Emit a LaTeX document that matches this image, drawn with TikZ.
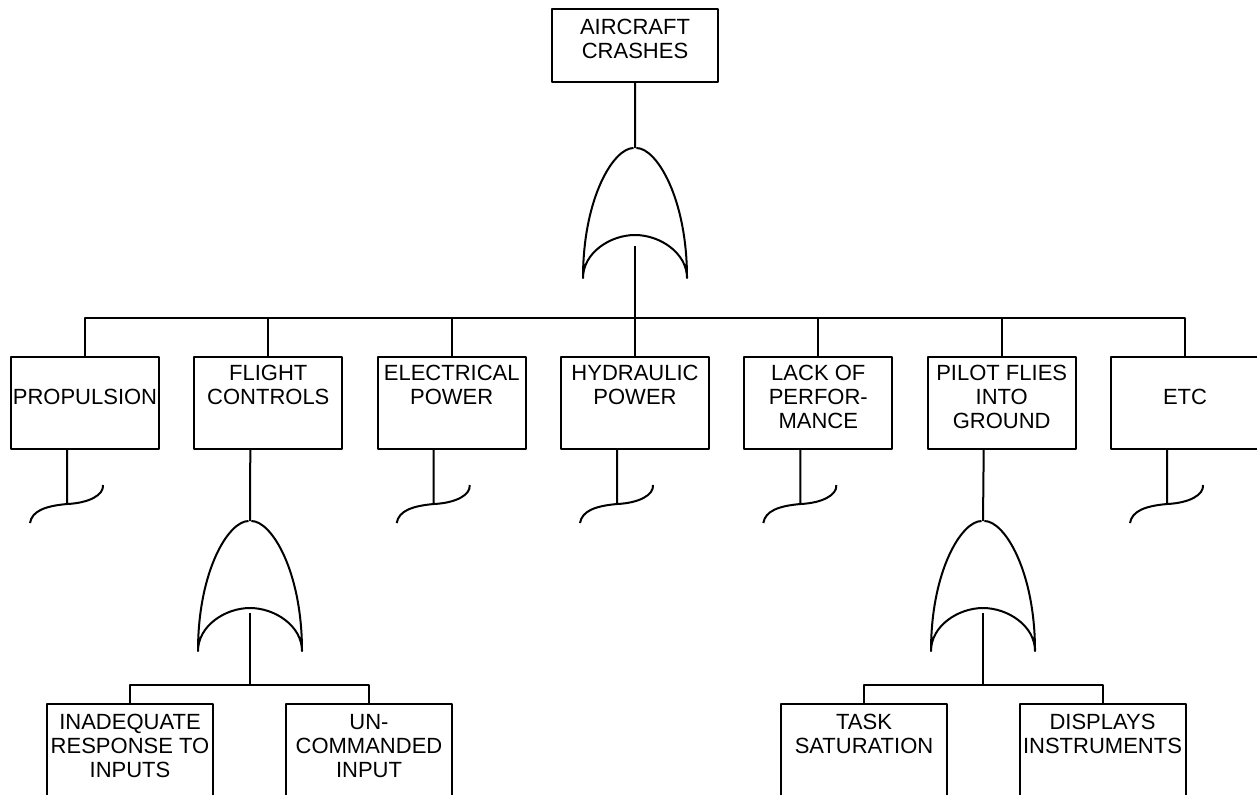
\documentclass[tikz,border=0pt]{standalone}
\usepackage{fontspec}
\setmainfont{Liberation Sans}
\begin{document}
\begin{tikzpicture}[x=0.5pt,y=-0.5pt,line width=1pt,line join=round,
  font=\fontsize{11pt}{12pt}\selectfont,
  evento/.style={draw,anchor=north,align=center,inner sep=0pt,minimum width=74pt,
    text height=23.5pt,text depth=22.5pt},
  tre/.style={text height=35.5pt,text depth=10.5pt},
  basso/.style={minimum width=83pt,text height=24.5pt,text depth=25.5pt},
  bassotre/.style={minimum width=83pt,text height=36.5pt,text depth=13.5pt}]

\def\portaor{++(-1.5,0) .. controls +(-20,0) and +(0,-80) .. ++(-50.5,130)
  .. controls +(0,-25) and +(-25,0) .. ++(52,-43)
  .. controls +(25,0) and +(0,-25) .. ++(52,43)
  .. controls +(0,-80) and +(20,0) .. ++(-50.5,-130)}

\useasboundingbox (0,0) rectangle (1257,794);
\clip (0,0) rectangle (1257,794);

%evento principale
\node[evento,minimum width=83pt,text height=24.5pt,text depth=12pt] (top) at (635,8) {AIRCRAFT\\CRASHES};
\coordinate (g1) at (635,148);
\draw (top.south) -- (g1) \portaor;
\coordinate (u1) at (635,246);
\coordinate (bus1) at (635,318);
\draw (u1) -- (bus1);

%livello 1
\node[evento] (prop) at (85,356) {PROPULSION};
\node[evento] (flight) at (268.3,356) {FLIGHT\\CONTROLS};
\node[evento] (elec) at (451.7,356) {ELECTRICAL\\POWER};
\node[evento] (hydr) at (635,356) {HYDRAULIC\\POWER};
\node[evento,tre] (lack) at (818.3,356) {LACK OF\\PERFOR-\\MANCE};
\node[evento,tre] (pilot) at (1001.7,356) {PILOT FLIES\\INTO\\GROUND};
\node[evento] (etc) at (1185,356) {ETC};
\foreach \n in {prop,flight,elec,hydr,lack,pilot,etc}
  \draw (bus1) -| (\n.north);

%non sviluppati
\foreach \n in {prop,elec,hydr,lack,etc}
  \draw ([xshift=-9pt]\n.south) -- ++(0,54) ++(-37,19)
    .. controls +(2,-12) and +(-22,2) .. ++(37,-19)
    .. controls +(22,-1) and +(1,10) .. ++(36,-19);

%porta flight controls
\coordinate (g2) at (250,521);
\draw ([xshift=-9pt]flight.south) -- (g2) \portaor;
\coordinate (u2) at (250,613);
\coordinate (bus2) at (250,685);
\draw (u2) -- (bus2);
\node[evento,bassotre] (inad) at (130,703) {INADEQUATE\\RESPONSE TO\\INPUTS};
\node[evento,bassotre] (uncom) at (369,703) {UN-\\COMMANDED\\INPUT};
\draw (bus2) -| (inad.north);
\draw (bus2) -| (uncom.north);

%porta pilot flies into ground
\coordinate (g3) at (983,521);
\draw ([xshift=-9pt]pilot.south) -- (g3) \portaor;
\coordinate (u3) at (983,613);
\coordinate (bus3) at (983,685);
\draw (u3) -- (bus3);
\node[evento,basso] (task) at (864,703) {TASK\\SATURATION};
\node[evento,basso] (displ) at (1102.5,703) {DISPLAYS\\INSTRUMENTS};
\draw (bus3) -| (task.north);
\draw (bus3) -| (displ.north);

\end{tikzpicture}
\end{document}
